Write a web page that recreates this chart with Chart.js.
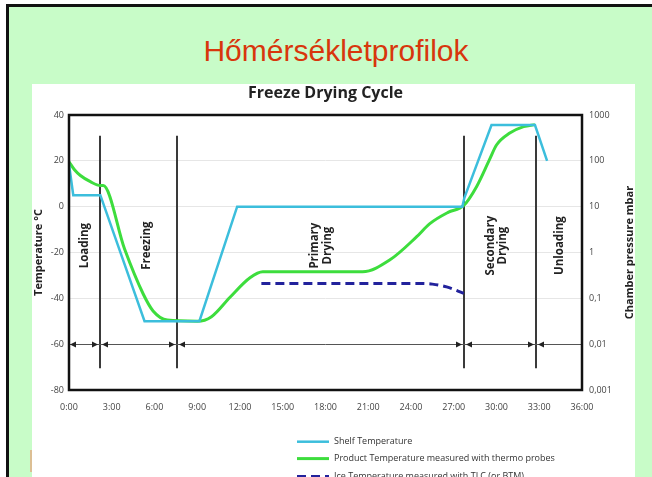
<!DOCTYPE html>
<html lang="hu">
<head>
<meta charset="UTF-8">
<title>Hőmérsékletprofilok</title>
<script src="https://cdn.jsdelivr.net/npm/chart.js"></script>
<style>
  html, body { margin: 0; padding: 0; background: #fff; width: 652px; height: 477px; overflow: hidden; }
  #slide { position: absolute; left: 6px; top: 4px; width: 700px; height: 500px; background: #c8fcc8;
           border-top: 3px solid #111; border-left: 3px solid #111; }
  #title { position: absolute; left: 0; top: 36px; width: 672px; text-align: center;
           font: 30px/30px "Liberation Sans", Arial, sans-serif; color: #d8360c; }
  #panel { position: absolute; left: 32px; top: 84px; width: 603px; height: 393px; background: #fff; }
  #mark { position: absolute; left: 30px; top: 450px; width: 2px; height: 22px; background: #dcbf94; }
</style>
</head>
<body>
<div id="slide"></div>
<div id="title">Hőmérsékletprofilok</div>
<div id="panel"><canvas id="chart" width="603" height="393"></canvas></div>
<div id="mark"></div>
<script>
// hours on the x axis, temperatures in °C
const shelfHours = [0, 0.3, 2.2, 5.3, 9.15, 11.8, 27.6, 27.75, 29.65, 32.7, 33.55];
const shelfTemp  = [18.5, 5, 5, -50, -50, 0, 0, 4, 35.6, 35.6, 20];

const productHours = [0, 0.4, 0.8, 1.5, 2.2, 2.4, 3.9, 5.2, 5.9, 6.9, 9.0, 10.0, 11.3, 12.7, 13.6, 20.6,
                      22.5, 24.4, 25.3, 26.6, 27.7, 28.6, 29.5, 30.0, 30.9, 31.9, 32.7];
const productTemp  = [19.6, 16, 13.6, 10.9, 9.2, 9.2, -18.5, -38, -45.5, -49.5, -50, -48, -39.5, -31, -28.4, -28.4,
                      -23.3, -13.1, -7.5, -2.5, 0.5, 8.7, 20.4, 26.9, 32, 34.9, 35.8];

const iceHours = [13.5, 24.5, 25.5, 26.5, 27.7];
const iceTemp  = [-33.5, -33.5, -33.8, -35, -37.8];

const seriesNames = ['Shelf Temperature', 'Product Temperature measured with thermo probes',
                     'Ice Temperature measured with TLC (or BTM)'];

// phases
const phaseBounds  = [2.2, 7.6, 27.7, 32.8];
const phaseNames   = ['Loading', 'Freezing', 'Primary\nDrying', 'Secondary\nDrying', 'Unloading'];
const phaseCenters = [1.1, 5.45, 17.7, 30.0, 34.45];
const phaseLabelTemp = -17;
const boundTop = 31, boundBottom = -70.5, arrowTemp = -60;

// ticks
const tempTicks = [-80, -60, -40, -20, 0, 20, 40];
const hourTicks = [0, 3, 6, 9, 12, 15, 18, 21, 24, 27, 30, 33, 36];
const pressureValues = [0.001, 0.01, 0.1, 1, 10, 100, 1000];
const pressureLabels = ['0,001', '0,01', '0,1', '1', '10', '100', '1000'];

function pts(xs, ys) { return xs.map((h, i) => ({ x: h, y: ys[i] })); }

const tickFont = { family: 'Open Sans', size: 9 };

const decor = {
  id: 'decor',
  beforeDatasetsDraw(chart) {
    const { ctx, chartArea: a, scales: { x, y } } = chart;
    ctx.save();
    // phase separators
    ctx.strokeStyle = '#3a3a3a';
    ctx.lineWidth = 2;
    phaseBounds.forEach(h => {
      const px = Math.round(x.getPixelForValue(h));
      ctx.beginPath();
      ctx.moveTo(px, y.getPixelForValue(boundTop));
      ctx.lineTo(px, y.getPixelForValue(boundBottom));
      ctx.stroke();
    });
    // arrow line
    const ay = Math.round(y.getPixelForValue(arrowTemp)) + 0.5;
    ctx.strokeStyle = '#555';
    ctx.lineWidth = 1;
    ctx.beginPath();
    ctx.moveTo(a.left, ay);
    ctx.lineTo(a.right, ay);
    ctx.stroke();
    ctx.fillStyle = '#222';
    const head = (tip, dir) => {
      ctx.beginPath();
      ctx.moveTo(tip, ay);
      ctx.lineTo(tip - dir * 6, ay - 3);
      ctx.lineTo(tip - dir * 6, ay + 3);
      ctx.closePath();
      ctx.fill();
    };
    head(x.getPixelForValue(0) + 1, -1);
    phaseBounds.forEach(h => {
      const px = Math.round(x.getPixelForValue(h));
      head(px - 2, 1);
      head(px + 2, -1);
    });
    // phase labels
    ctx.font = 'bold 11.5px "Open Sans"';
    ctx.fillStyle = '#222';
    ctx.textAlign = 'center';
    ctx.textBaseline = 'middle';
    phaseNames.forEach((name, i) => {
      const lines = name.split('\n');
      ctx.save();
      ctx.translate(x.getPixelForValue(phaseCenters[i]), y.getPixelForValue(phaseLabelTemp));
      ctx.rotate(-Math.PI / 2);
      lines.forEach((t, j) => ctx.fillText(t, 0, (j - (lines.length - 1) / 2) * 12.5));
      ctx.restore();
    });
    ctx.restore();
  },
  afterDatasetsDraw(chart) {
    const { ctx, chartArea: a } = chart;
    ctx.save();
    ctx.strokeStyle = '#111';
    ctx.lineWidth = 2.5;
    ctx.strokeRect(a.left, a.top, a.right - a.left, a.bottom - a.top);
    ctx.restore();
  },
  afterDraw(chart) {
    const { ctx, chartArea: a } = chart;
    ctx.save();
    // right axis title, reading upwards
    ctx.font = 'bold 11px "Open Sans"';
    ctx.fillStyle = '#222';
    ctx.textAlign = 'center';
    ctx.textBaseline = 'middle';
    ctx.translate(598, (a.top + a.bottom) / 2);
    ctx.rotate(-Math.PI / 2);
    ctx.fillText('Chamber pressure mbar', 0, 0);
    ctx.restore();

    // legend
    ctx.save();
    ctx.font = '9px "Open Sans"';
    ctx.fillStyle = '#333';
    ctx.textBaseline = 'middle';
    const rows = [357.7, 374.6, 392.5];
    chart.data.datasets.forEach((ds, i) => {
      const ly = rows[i];
      ctx.strokeStyle = ds.borderColor;
      ctx.lineWidth = ds.borderWidth;
      ctx.setLineDash(ds.borderDash || []);
      ctx.beginPath();
      ctx.moveTo(265, ly);
      ctx.lineTo(297, ly);
      ctx.stroke();
      ctx.setLineDash([]);
      ctx.fillText(ds.label, 302, ly);
    });
    ctx.restore();
  }
};

new Chart(document.getElementById('chart'), {
  type: 'line',
  data: {
    datasets: [{
      label: seriesNames[0],
      data: pts(shelfHours, shelfTemp),
      borderColor: '#3cbedc',
      borderWidth: 2.5,
      pointRadius: 0,
      tension: 0
    }, {
      label: seriesNames[1],
      data: pts(productHours, productTemp),
      borderColor: '#3ddd3d',
      borderWidth: 3,
      pointRadius: 0,
      cubicInterpolationMode: 'monotone'
    }, {
      label: seriesNames[2],
      data: pts(iceHours, iceTemp),
      borderColor: '#22229c',
      borderWidth: 3,
      borderDash: [9, 5],
      pointRadius: 0,
      cubicInterpolationMode: 'monotone'
    }]
  },
  options: {
    responsive: false,
    animation: false,
    devicePixelRatio: 1,
    layout: { padding: { left: 0, right: 16, top: 0, bottom: 67 } },
    plugins: {
      legend: { display: false },
      tooltip: { enabled: false },
      title: {
        display: true,
        text: 'Freeze Drying Cycle',
        color: '#222',
        font: { family: 'Open Sans', size: 16, weight: 'bold' },
        padding: { top: 0, bottom: 11.8 }
      }
    },
    scales: {
      x: {
        type: 'linear',
        min: 0,
        max: 36,
        afterBuildTicks: s => { s.ticks = hourTicks.map(v => ({ value: v })); },
        afterFit: s => { s.height = 20; },
        grid: { display: false, drawTicks: false },
        border: { display: false },
        ticks: { font: tickFont, color: '#444', padding: 12, maxRotation: 0,
                 callback: v => v + ':00' }
      },
      y: {
        position: 'left',
        min: -80,
        max: 40,
        afterBuildTicks: s => { s.ticks = tempTicks.map(v => ({ value: v })); },
        afterFit: s => { s.width = 37; },
        grid: { color: '#e6e6e6', drawTicks: false },
        border: { display: false },
        ticks: { font: tickFont, color: '#444', padding: 5 },
        title: { display: true, text: 'Temperature °C', color: '#222',
                 font: { family: 'Open Sans', size: 11, weight: 'bold' }, padding: 0 }
      },
      y2: {
        type: 'logarithmic',
        position: 'right',
        min: 0.001,
        max: 1000,
        afterBuildTicks: s => { s.ticks = pressureValues.map(v => ({ value: v })); },
        afterFit: s => { s.width = 37; },
        grid: { display: false, drawTicks: false },
        border: { display: false },
        ticks: { font: tickFont, color: '#444', padding: 7,
                 callback: (v, i) => pressureLabels[i] }
      }
    }
  },
  plugins: [decor]
});
</script>
</body>
</html>
